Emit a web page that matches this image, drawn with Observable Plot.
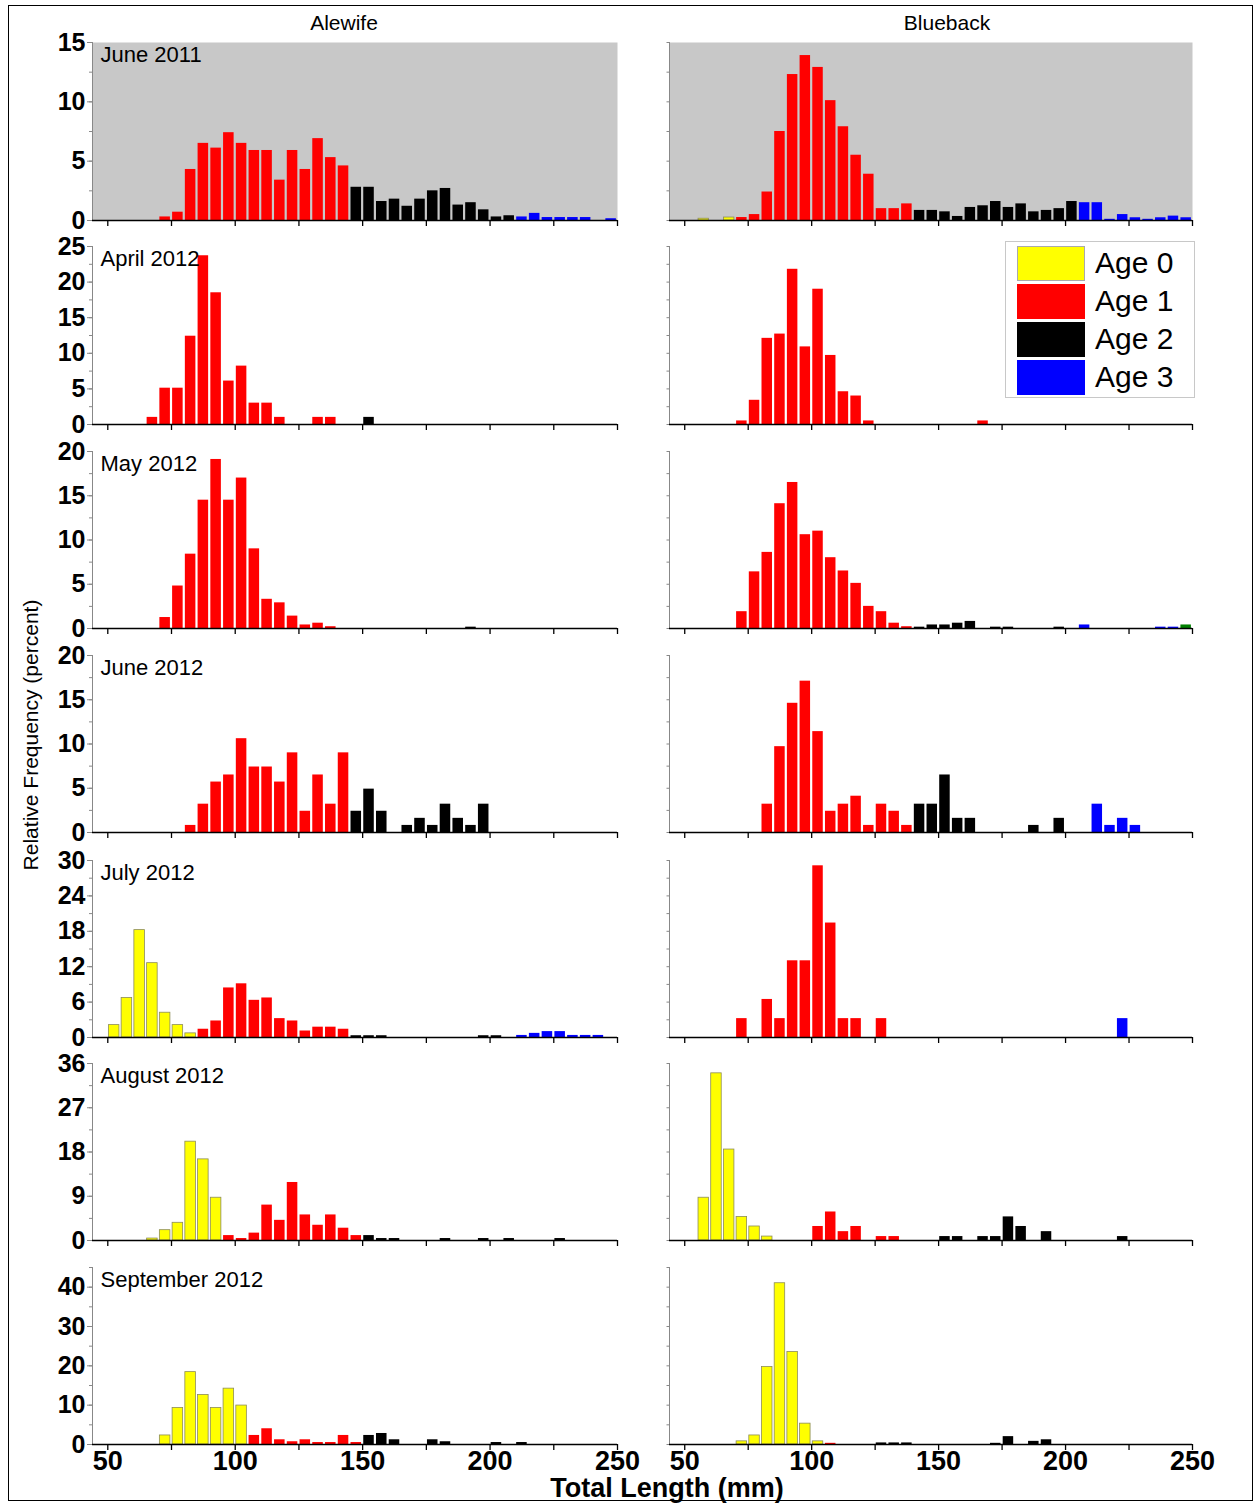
<!DOCTYPE html>
<html><head><meta charset="utf-8">
<script src="https://cdn.jsdelivr.net/npm/d3@7"></script>
<script src="https://cdn.jsdelivr.net/npm/@observablehq/plot@0.6"></script>
<style>
body{margin:0;background:#fff;font-family:"Liberation Sans",Arial,sans-serif;}
#fig{position:relative;width:1260px;height:1504px;overflow:hidden;background:#fff;}
#fig svg{position:absolute;}
.t{position:absolute;white-space:nowrap;color:#000;line-height:1;}
</style></head><body><div id="fig"></div>
<script>
// ---------- categories / labels ----------
const species = ["Alewife", "Blueback"];
const months = ["June 2011", "April 2012", "May 2012", "June 2012", "July 2012", "August 2012", "September 2012"];
const ageLabels = ["Age 0", "Age 1", "Age 2", "Age 3"];
const ageColors = ["#ffff00", "#ff0000", "#000000", "#0000ff", "#008000"];
const xTickLabels = [50, 100, 150, 200, 250];
const yTickLabels = [[0,5,10,15],[0,5,10,15,20,25],[0,5,10,15,20],[0,5,10,15,20],[0,6,12,18,24,30],[0,9,18,27,36],[0,10,20,30,40]];
const yMax = [15, 25, 20, 20, 30, 36, 45];
const yMinorStep = [2.5, 2.5, 2.5, 2.5, 3, 4.5, 5];
const xLabel = "Total Length (mm)";
const yLabel = "Relative Frequency (percent)";

// ---------- data: [length bin centre (mm), relative frequency (%), age] ----------
const aleJun11 = [[72.5,0.3,1],[77.5,0.7,1],[82.5,4.3,1],[87.5,6.5,1],[92.5,6.1,1],[97.5,7.4,1],[102.5,6.5,1],[107.5,5.9,1],[112.5,5.9,1],[117.5,3.4,1],[122.5,5.9,1],[127.5,4.3,1],[132.5,6.9,1],[137.5,5.3,1],[142.5,4.6,1],
 [147.5,2.8,2],[152.5,2.8,2],[157.5,1.6,2],[162.5,1.8,2],[167.5,1.2,2],[172.5,1.8,2],[177.5,2.5,2],[182.5,2.7,2],[187.5,1.3,2],[192.5,1.5,2],[197.5,0.9,2],[202.5,0.3,2],[207.5,0.4,2],
 [212.5,0.3,3],[217.5,0.6,3],[222.5,0.25,3],[227.5,0.25,3],[232.5,0.25,3],[237.5,0.25,3],[247.5,0.15,3]];
const bbJun11 = [[57.5,0.15,0],[67.5,0.25,0],[72.5,0.25,1],[77.5,0.5,1],[82.5,2.4,1],[87.5,7.5,1],[92.5,12.3,1],[97.5,13.9,1],[102.5,12.9,1],[107.5,10.1,1],[112.5,7.9,1],[117.5,5.5,1],[122.5,3.9,1],[127.5,1.0,1],[132.5,1.0,1],[137.5,1.4,1],
 [142.5,0.85,2],[147.5,0.85,2],[152.5,0.73,2],[157.5,0.34,2],[162.5,1.1,2],[167.5,1.24,2],[172.5,1.6,2],[177.5,1.1,2],[182.5,1.4,2],[187.5,0.73,2],[192.5,0.85,2],[197.5,1.0,2],[202.5,1.6,2],
 [207.5,1.5,3],[212.5,1.5,3],[217.5,0.1,3],[222.5,0.5,3],[227.5,0.23,3],[232.5,0.1,3],[237.5,0.23,3],[242.5,0.37,3],[247.5,0.23,3]];
const aleApr12 = [[67.5,1.0,1],[72.5,5.1,1],[77.5,5.1,1],[82.5,12.4,1],[87.5,23.7,1],[92.5,18.5,1],[97.5,6.1,1],[102.5,8.2,1],[107.5,3.0,1],[112.5,3.0,1],[117.5,1.0,1],[132.5,1.0,1],[137.5,1.0,1],[152.5,1.0,2]];
const bbApr12 = [[72.5,0.5,1],[77.5,3.4,1],[82.5,12.1,1],[87.5,12.7,1],[92.5,21.8,1],[97.5,10.9,1],[102.5,19.0,1],[107.5,9.7,1],[112.5,4.6,1],[117.5,4.0,1],[122.5,0.5,1],[167.5,0.5,1]];
const aleMay12 = [[72.5,1.24,1],[77.5,4.8,1],[82.5,8.4,1],[87.5,14.5,1],[92.5,19.1,1],[97.5,14.5,1],[102.5,17.0,1],[107.5,9.0,1],[112.5,3.3,1],[117.5,2.9,1],[122.5,1.4,1],[127.5,0.4,1],[132.5,0.6,1],[137.5,0.2,1],[192.5,0.15,2]];
const bbMay12 = [[72.5,1.9,1],[77.5,6.4,1],[82.5,8.6,1],[87.5,14.1,1],[92.5,16.5,1],[97.5,10.6,1],[102.5,11.0,1],[107.5,8.0,1],[112.5,6.5,1],[117.5,5.1,1],[122.5,2.5,1],[127.5,1.9,1],[132.5,0.6,1],[137.5,0.2,1],
 [142.5,0.15,2],[147.5,0.4,2],[152.5,0.4,2],[157.5,0.6,2],[162.5,0.8,2],[172.5,0.15,2],[177.5,0.15,2],[197.5,0.15,2],[207.5,0.4,3],[237.5,0.15,3],[242.5,0.15,3],[247.5,0.4,4]];
const aleJun12 = [[82.5,0.8,1],[87.5,3.2,1],[92.5,5.7,1],[97.5,6.5,1],[102.5,10.6,1],[107.5,7.4,1],[112.5,7.4,1],[117.5,5.7,1],[122.5,9.0,1],[127.5,2.4,1],[132.5,6.5,1],[137.5,3.2,1],[142.5,9.0,1],
 [147.5,2.4,2],[152.5,4.9,2],[157.5,2.4,2],[167.5,0.8,2],[172.5,1.6,2],[177.5,0.8,2],[182.5,3.2,2],[187.5,1.6,2],[192.5,0.8,2],[197.5,3.2,2]];
const bbJun12 = [[82.5,3.2,1],[87.5,9.7,1],[92.5,14.6,1],[97.5,17.1,1],[102.5,11.4,1],[107.5,2.4,1],[112.5,3.2,1],[117.5,4.1,1],[122.5,0.8,1],[127.5,3.2,1],[132.5,2.4,1],[137.5,0.8,1],
 [142.5,3.2,2],[147.5,3.2,2],[152.5,6.5,2],[157.5,1.6,2],[162.5,1.6,2],[187.5,0.8,2],[197.5,1.6,2],[212.5,3.2,3],[217.5,0.8,3],[222.5,1.6,3],[227.5,0.8,3]];
const aleJul12 = [[52.5,2.1,0],[57.5,6.7,0],[62.5,18.2,0],[67.5,12.6,0],[72.5,4.2,0],[77.5,2.1,0],[82.5,0.7,0],
 [87.5,1.4,1],[92.5,2.8,1],[97.5,8.4,1],[102.5,9.1,1],[107.5,6.3,1],[112.5,6.7,1],[117.5,3.2,1],[122.5,2.8,1],[127.5,1.1,1],[132.5,1.75,1],[137.5,1.75,1],[142.5,1.4,1],
 [147.5,0.3,2],[152.5,0.3,2],[157.5,0.3,2],[197.5,0.3,2],[202.5,0.3,2],
 [212.5,0.35,3],[217.5,0.7,3],[222.5,1.0,3],[227.5,1.0,3],[232.5,0.35,3],[237.5,0.35,3],[242.5,0.35,3]];
const bbJul12 = [[72.5,3.2,1],[82.5,6.45,1],[87.5,3.2,1],[92.5,13.0,1],[97.5,13.0,1],[102.5,29.1,1],[107.5,19.4,1],[112.5,3.2,1],[117.5,3.2,1],[127.5,3.2,1],[222.5,3.2,3]];
const aleAug12 = [[67.5,0.4,0],[72.5,2.1,0],[77.5,3.6,0],[82.5,20.1,0],[87.5,16.5,0],[92.5,8.7,0],
 [97.5,1.0,1],[102.5,0.4,1],[107.5,1.5,1],[112.5,7.2,1],[117.5,4.1,1],[122.5,11.8,1],[127.5,5.2,1],[132.5,3.1,1],[137.5,5.2,1],[142.5,2.5,1],[147.5,1.0,1],
 [152.5,1.0,2],[157.5,0.4,2],[162.5,0.4,2],[182.5,0.4,2],[197.5,0.4,2],[207.5,0.4,2],[227.5,0.4,2]];
const bbAug12 = [[57.5,8.7,0],[62.5,34.0,0],[67.5,18.5,0],[72.5,4.8,0],[77.5,2.85,0],[82.5,0.8,0],
 [102.5,2.85,1],[107.5,5.8,1],[112.5,1.8,1],[117.5,2.85,1],[127.5,0.8,1],[132.5,0.8,1],
 [152.5,0.8,2],[157.5,0.8,2],[167.5,0.8,2],[172.5,0.8,2],[177.5,4.8,2],[182.5,2.85,2],[192.5,1.8,2],[222.5,0.8,2]];
const aleSep12 = [[72.5,2.3,0],[77.5,9.3,0],[82.5,18.4,0],[87.5,12.6,0],[92.5,9.3,0],[97.5,14.2,0],[102.5,9.9,0],
 [107.5,2.3,1],[112.5,4.0,1],[117.5,1.2,1],[122.5,0.7,1],[127.5,1.2,1],[132.5,0.5,1],[137.5,0.5,1],[142.5,2.3,1],[147.5,0.5,1],
 [152.5,2.3,2],[157.5,2.8,2],[162.5,1.2,2],[177.5,1.2,2],[182.5,0.7,2],[202.5,0.5,2],[212.5,0.5,2]];
const bbSep12 = [[72.5,0.8,0],[77.5,2.3,0],[82.5,19.7,0],[87.5,41.0,0],[92.5,23.5,0],[97.5,5.3,0],[102.5,0.8,0],
 [107.5,0.3,1],[127.5,0.4,2],[132.5,0.4,2],[137.5,0.4,2],[172.5,0.3,2],[177.5,2.0,2],[187.5,0.8,2],[192.5,1.2,2]];

const panels = [[aleJun11, bbJun11],[aleApr12, bbApr12],[aleMay12, bbMay12],[aleJun12, bbJun12],[aleJul12, bbJul12],[aleAug12, bbAug12],[aleSep12, bbSep12]];

// ---------- layout ----------
const fig = document.getElementById("fig");
const rowTop = [42, 246, 451, 655, 860, 1063, 1267];
const rowBottom = [220, 424, 628, 832, 1037, 1240, 1444];
const binHalf = 2.5;
const xDomain = [44, 250];
const xMinor = d3.range(50, 251, 25);
const font = "Liberation Sans, Arial, sans-serif";

function addText(txt, css) {
  const d = document.createElement("div");
  d.className = "t";
  d.textContent = txt;
  Object.assign(d.style, css);
  fig.appendChild(d);
  return d;
}

panels.forEach((pair, i) => {
  pair.forEach((data, j) => {
    const mt = 22, mb = i === 6 ? 52 : 12;
    const left = j === 0 ? 0 : 620;
    const width = j === 0 ? 640 : 620;
    const ml = j === 0 ? 92 : 49;
    const mr = j === 0 ? 23 : 48;
    const h = mt + (rowBottom[i] - rowTop[i]) + mb;
    const yMinor = d3.range(0, yMax[i] + 1e-9, yMinorStep[i]);
    const marks = [];
    if (i === 0) marks.push(Plot.frame({fill: "#c8c8c8", stroke: "none"}));
    marks.push(Plot.rect(data, {x1: d => d[0] - binHalf, x2: d => d[0] + binHalf, y1: 0, y2: d => d[1], fill: d => d[2], insetLeft: 1.1, insetRight: 1.1}));
    marks.push(Plot.rect(data.filter(d => d[2] === 0), {x1: d => d[0] - binHalf, x2: d => d[0] + binHalf, y1: 0, y2: d => d[1], fill: "none", stroke: "#8c8c5a", strokeWidth: 0.8, insetLeft: 1.1, insetRight: 1.1}));
    marks.push(Plot.ruleX([xDomain[0]], {stroke: "#888", strokeWidth: 1}));
    marks.push(Plot.ruleY([0], {stroke: "#000", strokeWidth: 1.6}));
    marks.push(Plot.axisX(xMinor, {tickSize: 6, tickFormat: () => "", label: null, stroke: "#000", strokeWidth: 1.3}));
    if (j === 0) {
      marks.push(Plot.axisY(yMinor, {tickSize: 3, tickFormat: () => "", label: null, stroke: "#888"}));
      marks.push(Plot.axisY(yTickLabels[i], {tickSize: 5, tickPadding: 2, label: null, stroke: "#888", fill: "#000", fontSize: 25, fontWeight: "bold"}));
      marks.push(Plot.text([months[i]], {frameAnchor: "top-left", text: d => d, dx: 8, dy: 4, fontSize: 22, textAnchor: "start", lineAnchor: "top", fill: "#000"}));
    } else {
      marks.push(Plot.axisY(yMinor, {tickSize: 2.5, tickFormat: () => "", label: null, stroke: "#888"}));
    }
    if (i === 6) {
      marks.push(Plot.axisX(xTickLabels, {tickSize: 0, tickPadding: 6, label: null, fill: "#000", fontSize: 27, fontWeight: "bold"}));
    }
    const svg = Plot.plot({
      width, height: h,
      marginLeft: ml, marginRight: mr, marginTop: mt, marginBottom: mb,
      x: {domain: xDomain},
      y: {domain: [0, yMax[i]]},
      color: {type: "ordinal", domain: [0, 1, 2, 3, 4], range: ageColors},
      style: {background: "transparent", overflow: "visible", fontFamily: font, color: "#000", maxWidth: "none"},
      marks
    });
    svg.style.left = left + "px";
    svg.style.top = (rowTop[i] - mt) + "px";
    fig.appendChild(svg);
  });
});

// titles and axis labels
addText(species[0], {left: "344px", top: "12px", fontSize: "21px", transform: "translateX(-50%)"});
addText(species[1], {left: "947px", top: "12px", fontSize: "21px", transform: "translateX(-50%)"});
addText(xLabel, {left: "667px", top: "1475px", fontSize: "27px", fontWeight: "bold", transform: "translateX(-50%)"});
addText(yLabel, {left: "30px", top: "735px", fontSize: "21px", transform: "translate(-50%,-50%) rotate(-90deg)"});

// outer frame
const frame = document.createElement("div");
Object.assign(frame.style, {position: "absolute", left: "8px", top: "5px", width: "1245px", height: "1496px", border: "1.5px solid #000", boxSizing: "border-box", pointerEvents: "none"});
fig.appendChild(frame);

// legend
const leg = document.createElement("div");
Object.assign(leg.style, {position: "absolute", left: "1005px", top: "241px", width: "190px", height: "157px", border: "1px solid #c8c8c8", background: "#fff", boxSizing: "border-box"});
fig.appendChild(leg);
ageLabels.forEach((lab, k) => {
  const sw = document.createElement("div");
  Object.assign(sw.style, {position: "absolute", left: "11px", top: (4 + k * 38) + "px", width: "68px", height: "35px", background: ageColors[k], boxSizing: "border-box", border: k === 0 ? "1px solid #aaa" : "none"});
  leg.appendChild(sw);
  const t = document.createElement("div");
  t.textContent = lab;
  Object.assign(t.style, {position: "absolute", left: "89px", top: (4 + k * 38 + 17) + "px", transform: "translateY(-50%)", fontSize: "30px", lineHeight: "1", whiteSpace: "nowrap", color: "#000"});
  leg.appendChild(t);
});
</script>
</body></html>
